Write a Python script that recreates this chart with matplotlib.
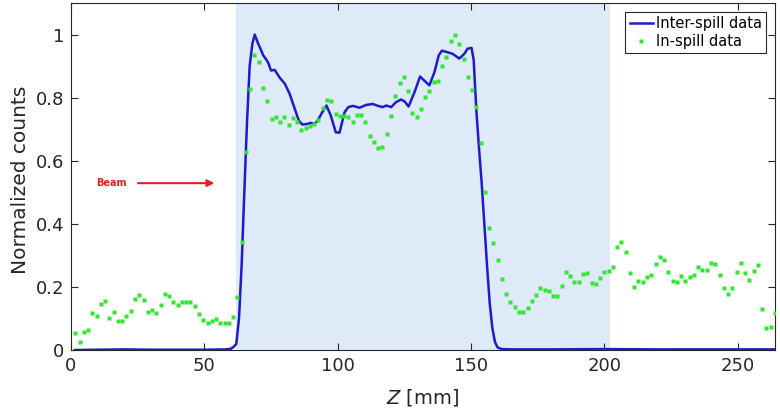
import matplotlib
matplotlib.use("Agg")
import matplotlib.pyplot as plt

# inter-spill profile (continuous line)
z_line = [1.5, 10, 20, 30, 40, 50, 58, 60, 61, 62, 63, 64, 65, 66, 67, 68, 68.9,
          70, 70.8, 72.1, 73.3, 74, 75.0, 76.4, 78.3, 80.2, 82.0, 83.9, 85.4, 86.7,
          88.3, 89.9, 91.4, 92.6, 93.9, 95.8, 97.4, 99.3, 100.7, 102.6, 104, 105.7,
          108.2, 110.7, 113.2, 115.1, 116.9, 118.2, 120.1, 121.9, 123.8, 125.1, 126.6,
          128.8, 130.9, 132.5, 134.4, 136.3, 137.9, 139.1, 141.2, 143.1, 145.6, 147.5,
          148.7, 150.2, 151.0, 152.0, 153.0, 154.0, 155.0, 156.0, 157.0, 158.0, 159.0,
          160.0, 161.5, 165, 180, 200, 220, 240, 264]
counts_line = [0.0, 0.001, 0.002, 0.001, 0.001, 0.001, 0.002, 0.004, 0.01, 0.02, 0.10,
               0.27, 0.50, 0.72, 0.90, 0.97, 1.0, 0.975, 0.960, 0.934, 0.920, 0.910,
               0.886, 0.888, 0.863, 0.844, 0.812, 0.765, 0.728, 0.715, 0.716, 0.720,
               0.717, 0.728, 0.749, 0.775, 0.744, 0.690, 0.689, 0.754, 0.770, 0.774,
               0.768, 0.777, 0.780, 0.774, 0.770, 0.775, 0.770, 0.786, 0.794, 0.788,
               0.772, 0.817, 0.867, 0.854, 0.839, 0.881, 0.934, 0.949, 0.944, 0.939,
               0.924, 0.939, 0.955, 0.958, 0.92, 0.76, 0.64, 0.53, 0.40, 0.27, 0.15,
               0.07, 0.025, 0.008, 0.003, 0.002, 0.002, 0.003, 0.002, 0.002, 0.002]

# in-spill points
z_pts = [1.6, 3.2, 4.8, 6.4, 8.0, 9.6, 11.2, 12.8, 14.4, 16.0,
         17.6, 19.2, 20.8, 22.4, 24.0, 25.6, 27.2, 28.8, 30.4, 32.0,
         33.6, 35.2, 36.8, 38.4, 40.0, 41.6, 43.2, 44.8, 46.4, 48.0,
         49.6, 51.2, 52.8, 54.4, 56.0, 57.6, 59.2, 60.8, 62.4, 64.0,
         65.6, 67.2, 68.8, 70.4, 72.0, 73.6, 75.2, 76.8, 78.4, 80.0,
         81.6, 83.2, 84.8, 86.4, 88.0, 89.6, 91.2, 92.8, 94.4, 96.0,
         97.6, 99.2, 100.8, 102.4, 104.0, 105.6, 107.2, 108.8, 110.4, 112.0,
         113.6, 115.2, 116.8, 118.4, 120.0, 121.6, 123.2, 124.8, 126.4, 128.0,
         129.6, 131.2, 132.8, 134.4, 136.0, 137.6, 139.2, 140.8, 142.4, 144.0,
         145.6, 147.2, 148.8, 150.4, 152.0, 153.6, 155.2, 156.8, 158.4, 160.0,
         161.6, 163.2, 164.8, 166.4, 168.0, 169.6, 171.2, 172.8, 174.4, 176.0,
         177.6, 179.2, 180.8, 182.4, 184.0, 185.6, 187.2, 188.8, 190.4, 192.0,
         193.6, 195.2, 196.8, 198.4, 200.0, 201.6, 203.2, 204.8, 206.4, 208.0,
         209.6, 211.2, 212.8, 214.4, 216.0, 217.6, 219.2, 220.8, 222.4, 224.0,
         225.6, 227.2, 228.8, 230.4, 232.0, 233.6, 235.2, 236.8, 238.4, 240.0,
         241.6, 243.2, 244.8, 246.4, 248.0, 249.6, 251.2, 252.8, 254.4, 256.0,
         257.6, 259.2, 260.8, 262.4, 264.0]
counts_pts = [0.053, 0.026, 0.058, 0.065, 0.116, 0.109, 0.147, 0.156, 0.103, 0.122,
              0.092, 0.092, 0.109, 0.124, 0.163, 0.175, 0.160, 0.120, 0.126, 0.116,
              0.143, 0.177, 0.170, 0.153, 0.143, 0.153, 0.151, 0.151, 0.140, 0.114,
              0.094, 0.085, 0.091, 0.098, 0.086, 0.086, 0.086, 0.105, 0.168, 0.343,
              0.627, 0.826, 0.936, 0.914, 0.830, 0.788, 0.733, 0.738, 0.724, 0.738,
              0.714, 0.736, 0.724, 0.699, 0.705, 0.709, 0.715, 0.728, 0.767, 0.793,
              0.788, 0.748, 0.742, 0.742, 0.738, 0.722, 0.744, 0.745, 0.722, 0.677,
              0.660, 0.641, 0.643, 0.685, 0.743, 0.804, 0.848, 0.867, 0.820, 0.750,
              0.739, 0.764, 0.801, 0.820, 0.849, 0.852, 0.900, 0.930, 0.979, 0.999,
              0.971, 0.924, 0.866, 0.823, 0.770, 0.657, 0.500, 0.388, 0.339, 0.285,
              0.225, 0.177, 0.151, 0.135, 0.122, 0.122, 0.133, 0.156, 0.173, 0.197,
              0.189, 0.187, 0.170, 0.170, 0.204, 0.246, 0.234, 0.217, 0.215, 0.242,
              0.244, 0.213, 0.208, 0.229, 0.246, 0.252, 0.263, 0.327, 0.342, 0.312,
              0.244, 0.200, 0.220, 0.215, 0.232, 0.239, 0.274, 0.296, 0.286, 0.246,
              0.220, 0.215, 0.236, 0.219, 0.230, 0.239, 0.263, 0.253, 0.253, 0.277,
              0.272, 0.239, 0.198, 0.177, 0.198, 0.246, 0.277, 0.244, 0.222, 0.252,
              0.269, 0.130, 0.071, 0.073, 0.118]

# target region and axis ticks
target_start, target_end = 62, 202
x_ticks = [0, 50, 100, 150, 200, 250]
y_ticks = [0, 0.2, 0.4, 0.6, 0.8, 1.0]
y_tick_labels = ["0", "0.2", "0.4", "0.6", "0.8", "1"]

dark = "#262626"

fig = plt.figure(figsize=(7.8, 4.13), dpi=100)
ax = fig.add_axes([0.091, 0.1525, 0.9026, 0.8402])

ax.axvspan(target_start, target_end, color="#deeaf8", lw=0, zorder=0)
ax.plot(z_line, counts_line, color="#1c1cc8", lw=1.8, label="Inter-spill data", zorder=3)
ax.plot(z_pts, counts_pts, "s", ms=3.4, color="#33e633", mec="none",
        label="In-spill data", zorder=4)

ax.set_xlim(0, 264)
ax.set_ylim(0, 1.1)
ax.set_xticks(x_ticks)
ax.set_yticks(y_ticks)
ax.set_yticklabels(y_tick_labels)
ax.tick_params(direction="in", top=True, right=True, length=5, width=0.8,
               labelsize=13, color=dark, labelcolor=dark)
ax.tick_params(axis="x", pad=5)
ax.tick_params(axis="y", pad=5)
for sp in ax.spines.values():
    sp.set_color(dark)
    sp.set_linewidth(0.8)

ax.set_ylabel("Normalized counts", fontsize=14.5, color=dark)
ax.set_xlabel("$Z$ [mm]", fontsize=14, color=dark)
ax.yaxis.set_label_coords(-0.058, 0.49)
ax.xaxis.set_label_coords(0.50, -0.108)

# beam direction
ax.annotate("", xy=(54.8, 0.529), xytext=(24.1, 0.529),
            arrowprops=dict(arrowstyle="-|>", color="#e62020", lw=1.5, mutation_scale=10))
ax.text(9.5, 0.529, "Beam", color="#e62020", fontweight="bold", fontsize=7,
        va="center", ha="left")

leg = ax.legend(loc="upper right", fontsize=10.5, frameon=True, fancybox=False,
                edgecolor=dark, framealpha=1, borderaxespad=0.6, handlelength=1.6,
                handletextpad=0.2, borderpad=0.3, labelspacing=0.2, numpoints=1)
leg.get_frame().set_linewidth(0.8)

fig.savefig("out.png", dpi=100)
